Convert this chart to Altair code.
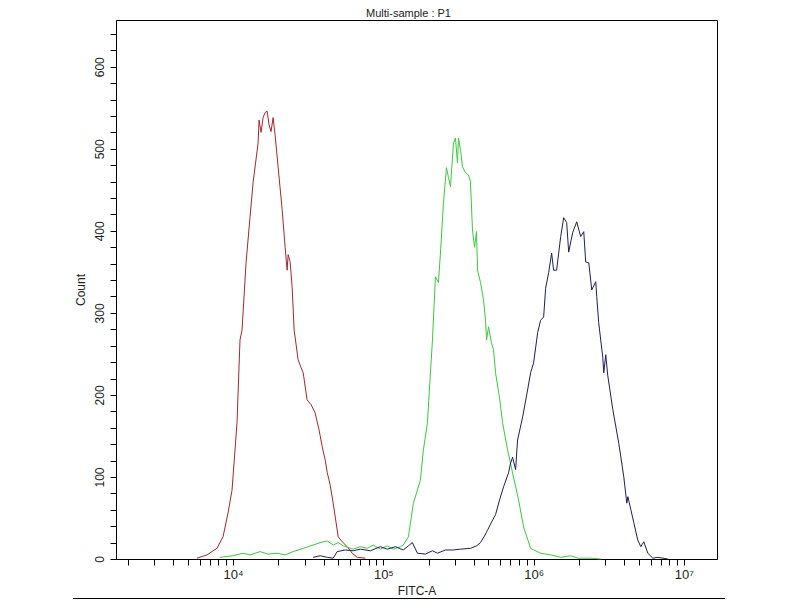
import altair as alt
import pandas as pd

# FITC-A intensity and event counts for each sample
red_x = [5750, 6710, 7820, 8580, 9260, 9850, 10310, 10630, 11130, 11480, 12210, 12980,
         13600, 14680, 14900, 15370, 15850, 16340, 16860, 17380, 17910, 18480, 19050,
         19950, 21220, 22220, 22900, 23270, 23990, 24730, 25510, 26300, 27100, 28400,
         29300, 31100, 33100, 35200, 37400, 39200, 41000, 42400, 44300, 46400, 47900,
         50100, 53300, 57500, 62100, 67100, 75900]
red_y = [1, 5, 13, 27, 56, 84, 133, 166, 267, 279, 361, 417,
         459, 507, 535, 520, 538, 544, 546, 529, 521, 538, 517,
         478, 426, 380, 352, 371, 362, 332, 279, 261, 243, 233,
         227, 194, 188, 178, 157, 137, 121, 105, 90, 68, 51,
         27, 21, 15, 7, 2, 1]

green_x = [8190, 10000, 11660, 12980, 15140, 17100, 19630, 22220, 25100, 29300, 34100,
           38000, 42400, 46400, 50100, 54100, 63100, 70300, 78200, 85800, 95500, 106300,
           116600, 129700, 135800, 146800, 158500, 176500, 184800, 196500, 205800, 212300,
           222300, 232600, 240000, 251200, 263000, 271200, 279800, 293000, 302000, 311500,
           316200, 326000, 336300, 352100, 368700, 380000, 391900, 404300, 417000, 423500,
           443400, 464200, 478600, 486300, 501200, 524800, 541200, 558000, 593600, 621600,
           671000, 724400, 794300, 857600, 955000, 1113000, 1298000, 1514000, 1766000,
           1963000, 2399000, 2797000]
green_y = [2, 4, 7, 5, 9, 6, 7, 5, 9, 13, 17,
           20, 22, 17, 20, 16, 12, 15, 13, 17, 12, 16,
           12, 15, 17, 27, 68, 96, 133, 166, 227, 267,
           344, 337, 373, 434, 477, 465, 454, 507, 513, 483,
           513, 499, 478, 471, 468, 460, 401, 380, 399, 352,
           337, 316, 291, 267, 283, 263, 255, 227, 196, 166,
           133, 105, 72, 39, 13, 7, 5, 2, 4,
           1, 1, 0]

navy_x = [34100, 38000, 42400, 46400, 49300, 55800, 63100, 70300, 81900, 95500, 106300,
          120200, 135800, 146800, 156000, 168700, 190500, 212300, 229100, 259000, 293000,
          326000, 380000, 417000, 443400, 471000, 493200, 524800, 558000, 593600, 631000,
          681000, 703000, 724400, 759000, 782000, 845000, 912000, 955000, 1000000, 1064000,
          1113000, 1166000, 1202000, 1259000, 1318000, 1358000, 1422000, 1514000, 1585000,
          1660000, 1711000, 1820000, 1935000, 2056000, 2155000, 2222000, 2328000, 2437000,
          2591000, 2630000, 2710000, 2884000, 2929000, 3020000, 3112000, 3365000, 3687000,
          3981000, 4169000, 4236000, 4436000, 4645000, 4932000, 5165000, 5408000, 5754000,
          6213000, 6714000, 7816000]
navy_y = [2, 4, 2, 1, 9, 11, 10, 12, 10, 15, 12,
          15, 11, 16, 20, 7, 6, 10, 7, 11, 11,
          12, 13, 16, 20, 28, 35, 45, 54, 72, 88,
          105, 117, 124, 109, 145, 173, 206, 227, 239, 276,
          291, 295, 330, 349, 373, 352, 352, 393, 416,
          410, 374, 398, 411, 393, 399, 362, 361, 328,
          338, 320, 288, 246, 227, 249, 224, 182, 141,
          100, 68, 76, 60, 44, 23, 15, 21, 7,
          1, 2, 0]

series_names = ["red", "green", "navy"]
series_colors = ["#a8262b", "#3cc83c", "#1e1e5a"]

x_ticks = ([k * 1000 for k in range(2, 10)] + [k * 10000 for k in range(1, 10)] +
           [k * 100000 for k in range(1, 10)] + [k * 1000000 for k in range(1, 10)] +
           [10000000])
y_ticks = list(range(0, 641, 20))

rows = []
for name, xs, ys in [("red", red_x, red_y), ("green", green_x, green_y), ("navy", navy_x, navy_y)]:
    for i, (xv, yv) in enumerate(zip(xs, ys)):
        rows.append({"FITC": xv, "Count": yv, "sample": name, "order": i})
df = pd.DataFrame(rows)

FONT = "Liberation Sans"

lines = alt.Chart(df).mark_line(strokeWidth=1, interpolate="linear").encode(
    x=alt.X("FITC:Q",
            scale=alt.Scale(type="log", domain=[1665, 16600000], nice=False),
            axis=alt.Axis(
                title="FITC-A", values=x_ticks, grid=False,
                labelExpr="datum.value == 10000 ? '10⁴' : datum.value == 100000 ? '10⁵' : datum.value == 1000000 ? '10⁶' : datum.value == 10000000 ? '10⁷' : ''",
                tickSize=6, tickColor="#000", domainColor="#000",
                labelFont=FONT, labelFontSize=13, labelColor="#222", labelPadding=3,
                labelFlush=False, labelOverlap=False,
                titleFont=FONT, titleFontSize=12, titleFontWeight="normal",
                titleColor="#222", titlePadding=4)),
    y=alt.Y("Count:Q",
            scale=alt.Scale(domain=[0, 657], nice=False),
            axis=alt.Axis(
                title="Count", values=y_ticks, grid=False,
                labelExpr="datum.value % 100 == 0 ? datum.label : ''",
                labelAngle=270, labelAlign="center", labelBaseline="bottom",
                tickSize=6, tickColor="#000", domainColor="#000",
                labelFont=FONT, labelFontSize=12, labelColor="#222", labelPadding=4,
                labelFlush=False, labelOverlap=False,
                titleFont=FONT, titleFontSize=12, titleFontWeight="normal",
                titleColor="#222", titlePadding=6)),
    color=alt.Color("sample:N",
                    scale=alt.Scale(domain=series_names, range=series_colors),
                    legend=None),
    order="order:Q",
)

border = alt.Chart(pd.DataFrame({"a": [0]})).mark_rule(
    color="#000", strokeWidth=2
).encode(x=alt.value(-43), x2=alt.value(609), y=alt.value(579))

chart = alt.layer(lines, border).properties(
    width=601, height=539,
    background="white",
    title=alt.TitleParams("Multi-sample : P1", font=FONT, fontSize=11,
                          fontWeight="normal", color="#222", anchor="middle",
                          offset=1, dx=-8),
    autosize=alt.AutoSizeParams(type="none"),
    padding={"left": 108, "top": 12, "right": 20, "bottom": 40},
).configure_view(stroke="#000000", strokeWidth=1)

chart.save("out.html", embed_options={"renderer": "svg", "actions": False})
